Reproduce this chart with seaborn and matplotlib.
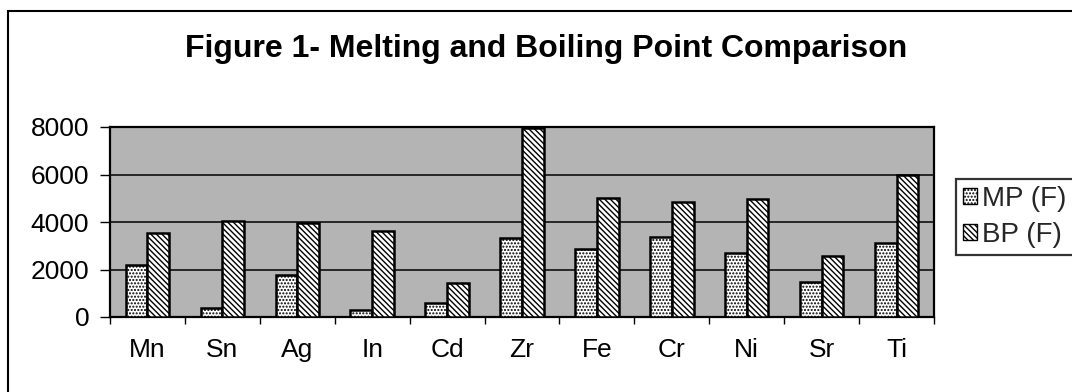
import matplotlib
matplotlib.use("Agg")
import matplotlib.pyplot as plt
import matplotlib.patches as mpatches
from matplotlib.ticker import FixedLocator, NullFormatter
import seaborn as sns
import pandas as pd
import numpy as np

elements = ["Mn", "Sn", "Ag", "In", "Cd", "Zr", "Fe", "Cr", "Ni", "Sr", "Ti"]
mp_f = [2200, 380, 1760, 310, 590, 3340, 2860, 3380, 2700, 1480, 3100]
bp_f = [3550, 4040, 3950, 3630, 1440, 7960, 5020, 4860, 4950, 2580, 5980]
series_names = ["MP (F)", "BP (F)"]
y_ticks = [0, 2000, 4000, 6000, 8000]
title = "Figure 1- Melting and Boiling Point Comparison"

df = pd.DataFrame({
    "Element": elements * 2,
    "Series": [series_names[0]] * len(elements) + [series_names[1]] * len(elements),
    "Value": mp_f + bp_f,
})

sns.set_theme(style="white")
plt.rcParams["font.family"] = ["Liberation Sans", "DejaVu Sans"]
plt.rcParams["hatch.linewidth"] = 1.0
plt.rcParams["hatch.color"] = "black"

fig = plt.figure(figsize=(10.72, 3.92), dpi=100)
fig.patch.set_facecolor("white")
ax = fig.add_axes([110 / 1072, 1 - 317 / 392, (934 - 110) / 1072, (317 - 127) / 392])
ax.set_facecolor("#b4b4b4")

sns.barplot(data=df, x="Element", y="Value", hue="Series", order=elements,
            hue_order=series_names, palette=["white", "white"], width=0.58,
            gap=0, edgecolor="black", linewidth=1.8, ax=ax, legend=False,
            zorder=3)

hatches = [".....", "\\" * 6]
for cont, h in zip(ax.containers, hatches):
    for p in cont:
        p.set_hatch(h)
        p.set_edgecolor("black")

ax.set_ylim(0, 8000)
ax.set_xlim(-0.5, len(elements) - 0.5)
ax.set_yticks(y_ticks)
ax.set_yticklabels([str(v) for v in y_ticks])
ax.yaxis.grid(True, color="black", linewidth=1.1, zorder=1)
ax.set_axisbelow(True)
ax.set_xlabel("")
ax.set_ylabel("")

ax.xaxis.set_minor_locator(FixedLocator(np.arange(-0.5, len(elements), 1.0)))
ax.xaxis.set_minor_formatter(NullFormatter())
ax.tick_params(axis="x", which="major", length=0, pad=15, labelsize=19, colors="black")
ax.tick_params(axis="x", which="minor", bottom=True, length=5, width=1.0, direction="out", color="black")
ax.tick_params(axis="y", which="major", left=True, length=7, width=1.0, pad=8,
               labelsize=19, direction="out", colors="black")
for s in ax.spines.values():
    s.set_visible(True)
    s.set_color("black")
    s.set_linewidth(1.6)

handles = [mpatches.Patch(facecolor="white", edgecolor="black", hatch=h, linewidth=1.0)
           for h in hatches]
leg = fig.legend(handles, series_names, loc="upper left",
                 bbox_to_anchor=(956 / 1072, 1 - 179 / 392),
                 fontsize=20, frameon=True, fancybox=False, borderpad=0.25,
                 handlelength=0.5, handleheight=0.5, handletextpad=0.2,
                 labelspacing=0.35, borderaxespad=0)
leg.get_frame().set_edgecolor("black")
leg.get_frame().set_linewidth(1.6)

fig.text(546 / 1072, 1 - 57 / 392, title, ha="center", va="baseline",
         fontsize=23, fontweight="bold", color="black")

frame = mpatches.Rectangle((8 / 1072, -0.1), 1.2, 1 - 11 / 392 + 0.1,
                           transform=fig.transFigure, fill=False,
                           edgecolor="black", linewidth=1.5)
fig.patches.append(frame)

fig.savefig("out.png", dpi=100)
